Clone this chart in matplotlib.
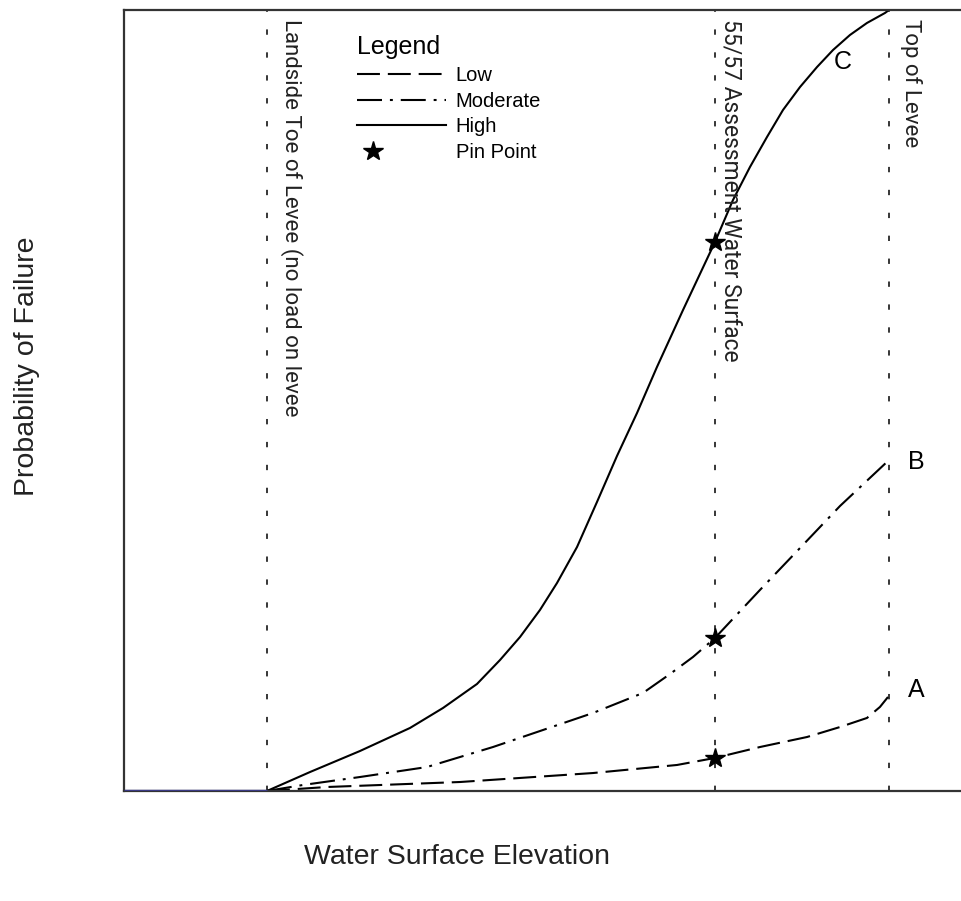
import matplotlib
matplotlib.use("Agg")
import matplotlib.pyplot as plt
from matplotlib.legend_handler import HandlerLine2D

# water surface elevation (arbitrary units, 0-100 across the plot)
toe_x = 17.06
assess_x = 70.52
top_x = 91.29

# probability of failure (arbitrary units, 0-100)
high_x = [17.06, 22.20, 28.16, 34.13, 38.07, 42.12, 44.87, 47.26, 49.64,
          51.67, 54.06, 56.44, 58.83, 61.22, 63.60, 66.71, 70.52, 72.67,
          74.70, 76.73, 78.64, 80.67, 82.70, 84.61, 86.63, 88.66, 90.81, 91.29]
high_y = [0.0, 2.43, 5.12, 8.07, 10.63, 13.70, 16.77, 19.72, 23.18,
          26.63, 31.24, 37.00, 42.90, 48.40, 54.29, 61.59, 70.29, 75.67,
          79.90, 83.74, 87.20, 90.14, 92.70, 94.88, 96.80, 98.34, 99.62, 100.0]

mod_x = [17.06, 21.36, 28.16, 36.16, 44.03, 50.0, 55.97, 61.93, 65.16, 67.9,
         70.52, 75.89, 80.67, 85.44, 91.29]
mod_y = [0.0, 0.77, 1.79, 3.07, 5.63, 7.81, 9.99, 12.55, 14.98, 17.16,
         19.59, 25.74, 31.11, 36.49, 42.38]

low_x = [17.06, 24.22, 40.1, 55.97, 65.99, 70.52, 75.89, 81.5, 85.44, 88.66,
         90.21, 91.17]
low_y = [0.0, 0.51, 1.15, 2.3, 3.33, 4.23, 5.63, 6.91, 8.19, 9.35, 10.76, 12.04]

pin_y = [4.23, 19.59, 70.29]

curve_labels = ["A", "B", "C"]
curve_label_x = [94.6, 94.6, 85.8]
curve_label_y = [12.9, 42.1, 93.3]

vline_labels = ["Landside Toe of Levee (no load on levee",
                "55/57 Assessment Water Surface", "Top of Levee"]


class LeftMarker(HandlerLine2D):
    # single marker near the left end of the handle, not in the middle
    def get_xdata(self, legend, xdescent, ydescent, width, height, fontsize):
        x0 = -xdescent
        x1 = x0 + 1.6 * fontsize
        return [x0, x1], [x0, x1]


plt.rcParams["font.family"] = ["Liberation Sans", "DejaVu Sans"]

fig = plt.figure(figsize=(9.62, 9.01), dpi=100)
ax = fig.add_axes([0.1289, 0.1221, 0.8711, 0.8668])

ax.plot([0, toe_x], [0, 0], color="#3a3a85", lw=2.5, solid_capstyle="butt",
        zorder=3)

low_line, = ax.plot(low_x, low_y, color="black", lw=1.5,
                    dashes=(11, 3.8), label="Low")
mod_line, = ax.plot(mod_x, mod_y, color="black", lw=1.5,
                    dashes=(12, 3.8, 1.4, 3.8), label="Moderate")
high_line, = ax.plot(high_x, high_y, color="black", lw=1.5, label="High")
pins, = ax.plot([assess_x] * len(pin_y), pin_y, ls="none", marker="*",
                ms=15, color="black", label="Pin Point", zorder=4)

for xv in [toe_x, assess_x, top_x]:
    ax.axvline(xv, color="black", lw=1.1, dashes=(3.5, 11.5))

text_x = [toe_x + 1.5, assess_x + 0.6, top_x + 1.3]
text_size = [16, 16.5, 16]
for xv, lab, fs in zip(text_x, vline_labels, text_size):
    ax.text(xv, 98.8, lab, rotation=270, ha="left", va="top", fontsize=fs,
            family=["Roboto", "DejaVu Sans"], color="#222222")

for lab, xv, yv in zip(curve_labels, curve_label_x, curve_label_y):
    ax.text(xv, yv, lab, ha="center", va="center", fontsize=18)

leg = ax.legend(handles=[low_line, mod_line, high_line, pins],
                handler_map={pins: LeftMarker(numpoints=1)},
                title="Legend", title_fontsize=18, alignment="left",
                loc="upper left", bbox_to_anchor=(0.272, 0.9746),
                frameon=False, fontsize=14.5, handlelength=4.4,
                handletextpad=0.5, labelspacing=0.34, borderpad=0.25,
                borderaxespad=0)

ax.set_xlim(0, 100)
ax.set_ylim(0, 100)
ax.set_xticks([])
ax.set_yticks([])
ax.spines["right"].set_visible(False)
for side in ["left", "top", "bottom"]:
    ax.spines[side].set_linewidth(1.6)
    ax.spines[side].set_color("#333333")

ax.set_xlabel("Water Surface Elevation", fontsize=20.5, color="#222222")
ax.xaxis.set_label_coords(0.397, -0.068)
ax.set_ylabel("Probability of Failure", fontsize=20.5, color="#222222")
ax.yaxis.set_label_coords(-0.100, 0.544)

fig.savefig("out.png", dpi=100)
